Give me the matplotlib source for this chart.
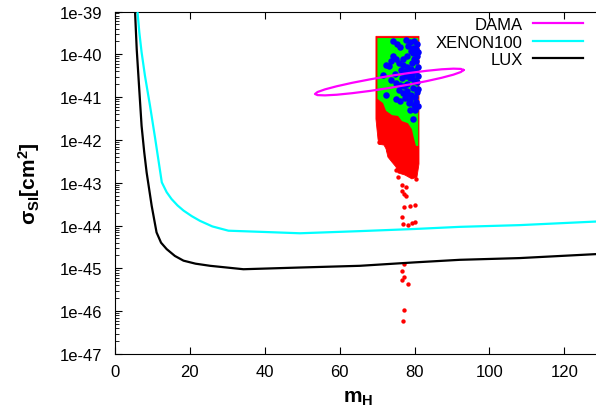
import numpy as np
import matplotlib
matplotlib.use("Agg")
import matplotlib.pyplot as plt
from matplotlib.ticker import FuncFormatter, NullLocator, FixedLocator, NullFormatter

plt.rcParams['font.family'] = ['Liberation Sans', 'DejaVu Sans']
plt.rcParams['mathtext.fontset'] = 'custom'
plt.rcParams['mathtext.rm'] = 'Liberation Sans:bold'
plt.rcParams['mathtext.default'] = 'rm'

# ---- exclusion limits: dark-matter mass m_H [GeV] vs log10(sigma_SI / cm^2) ----
xenon_m = [5.7, 6.0, 6.5, 7.1, 8.0, 9.35, 10.7, 12.5, 13.8, 15.1, 16.7, 18.3, 20.5,
           22.7, 26.0, 30.3, 40.0, 49.4, 65.4, 80.0, 92.1, 108.0, 130.0]
xenon_log = [-38.6, -39.0, -39.49, -39.95, -40.50, -41.20, -41.95, -42.99, -43.22,
             -43.38, -43.53, -43.65, -43.78, -43.89, -44.02, -44.12, -44.15, -44.18,
             -44.13, -44.08, -44.03, -43.99, -43.90]

lux_m = [5.1, 5.34, 5.8, 6.5, 7.1, 7.8, 8.45, 9.8, 11.1, 12.3, 13.8, 16.0, 18.3,
         21.5, 25.4, 34.3, 49.4, 65.4, 80.0, 92.1, 108.0, 130.0]
lux_log = [-38.6, -38.98, -39.88, -40.85, -41.67, -42.28, -42.76, -43.54, -44.16,
           -44.40, -44.55, -44.71, -44.82, -44.89, -44.94, -45.02, -44.98, -44.94,
           -44.86, -44.80, -44.76, -44.66]

# DAMA preferred region (closed contour)
dama_m = [93.06, 92.39, 90.40, 87.25, 83.15, 78.37, 73.24, 68.11, 63.33, 59.23,
          56.08, 54.09, 53.42, 54.09, 56.08, 59.23, 63.33, 68.11, 73.24, 78.37,
          83.15, 87.25, 90.40, 92.39, 93.06]
dama_log = [-40.367, -40.341, -40.335, -40.350, -40.386, -40.439, -40.507, -40.585,
            -40.666, -40.746, -40.819, -40.881, -40.927, -40.953, -40.959, -40.944,
            -40.908, -40.855, -40.787, -40.709, -40.628, -40.548, -40.475, -40.413,
            -40.367]

# ---- scan points of the model ----
# dense region of all points (red) and of points passing further constraints (green)
red_core_m = [69.7, 81.2, 81.2, 80.65, 79.3, 77.45, 75.6, 75.05, 74.0, 72.9, 72.4,
              71.85, 70.5, 70.25, 69.7]
red_core_log = [-39.58, -39.58, -42.56, -42.87, -42.91, -42.82, -42.77, -42.63, -42.52,
                -42.40, -42.21, -42.12, -42.10, -41.98, -41.51]

green_core_m = [70.1, 81.0, 81.0, 80.4, 79.9, 79.3, 78.25, 76.65, 75.6, 74.0, 72.4,
                71.6, 70.1]
green_core_log = [-39.62, -39.62, -42.14, -42.14, -41.98, -41.75, -41.61, -41.56, -41.44,
                  -41.42, -41.32, -41.14, -41.04]

# isolated red points below the dense region
red_pts_m = [70.4, 72.9, 75.05, 76.65, 78.8, 79.9, 76.65, 77.7, 76.65, 77.2, 77.7,
             77.2, 78.8, 80.1, 76.65, 76.9, 78.25, 79.3, 80.1, 77.2, 76.65, 77.2,
             76.65, 78.25, 77.2, 76.9, 75.6, 80.4]
red_pts_log = [-42.05, -42.24, -42.70, -42.73, -42.70, -42.75, -43.05, -43.10, -43.19,
               -43.26, -43.31, -43.57, -43.54, -43.52, -43.80, -43.96, -43.99, -43.94,
               -43.92, -44.90, -45.06, -45.19, -45.27, -45.37, -45.97, -46.23, -42.87,
               -42.91]

# blue points
blue_m = [74.25, 75.3, 76.1, 77.7, 78.8, 79.9, 80.65, 78.25, 79.6, 80.4,
          79.6, 80.65, 79.9, 80.4, 74.25, 75.05, 73.7,
          75.85, 76.9, 78.0, 79.05, 80.1, 76.4, 77.45, 72.4, 73.2,
          77.7, 78.8, 79.9, 80.65, 79.3, 75.05, 76.1, 77.2, 78.0, 72.4,
          75.85, 76.9, 78.0, 79.05, 80.1, 80.65, 77.45, 78.8,
          78.5, 79.9, 80.4, 75.05, 71.6, 79.6,
          80.9, 80.9, 80.9, 80.9, 80.9, 79.0, 78.0, 77.0, 79.3, 78.3, 76.6,
          77.6, 79.6, 80.2, 76.0, 74.8, 73.8, 78.9]
blue_log = [-39.69, -39.76, -39.83, -39.67, -39.71, -39.69, -39.76, -39.81, -39.85, -39.88,
            -39.97, -40.04, -40.11, -40.16, -40.04, -40.11, -40.16,
            -40.20, -40.25, -40.30, -40.34, -40.39, -40.37, -40.39, -40.25, -40.27,
            -40.51, -40.55, -40.60, -40.65, -40.48, -40.67, -40.72, -40.74, -40.69, -40.95,
            -40.83, -40.90, -40.86, -40.95, -41.00, -40.88, -41.02, -41.07,
            -41.14, -41.18, -41.11, -41.04, -40.48, -41.51,
            -39.95, -40.30, -40.50, -40.80, -41.20, -39.92, -40.05, -40.10, -40.20,
            -40.45, -40.55, -40.95, -40.78, -41.30, -41.10, -40.45, -40.60, -41.30]

x_ticks = [0, 20, 40, 60, 80, 100, 120]
y_decades = [-47, -46, -45, -44, -43, -42, -41, -40, -39]
x_range = (0, 130)


def sig(v):
    return 10.0 ** np.asarray(v, dtype=float)


fig = plt.figure(figsize=(5.96, 4.10), dpi=100)
ax = fig.add_axes([115 / 596, 55 / 410, (601.7 - 115) / 596, (355 - 12.5) / 410])
ax.set_yscale('log')

ax.fill(red_core_m, sig(red_core_log), color='#ff0000', lw=0.6, ec='#ff0000', zorder=2)
ax.scatter(red_pts_m, sig(red_pts_log), s=10, color='#ff0000', lw=0, zorder=2)
ax.fill(green_core_m, sig(green_core_log), color='#00ff00', lw=0, zorder=3)
ax.scatter(blue_m, sig(blue_log), s=22, color='#0000ff', lw=0, zorder=4)

ax.plot(dama_m, sig(dama_log), color='#ff00ff', lw=1.6, zorder=6, label='DAMA')
ax.plot(xenon_m, sig(xenon_log), color='#00ffff', lw=1.6, zorder=5, label='XENON100')
ax.plot(lux_m, sig(lux_log), color='black', lw=1.6, zorder=5, label='LUX')

ax.set_xlim(*x_range)
ax.set_ylim(sig(y_decades[0]), sig(y_decades[-1]))
ax.xaxis.set_major_locator(FixedLocator(x_ticks))
ax.xaxis.set_minor_locator(NullLocator())
major_y = sig(y_decades)
minor_y = [k * 10.0 ** d for d in y_decades[:-1] for k in range(2, 10)]
ax.yaxis.set_major_locator(FixedLocator(major_y))
ax.yaxis.set_minor_locator(FixedLocator(minor_y))
ax.yaxis.set_major_formatter(FuncFormatter(lambda v, p: f"1e{int(np.round(np.log10(v)))}"))
ax.yaxis.set_minor_formatter(NullFormatter())

ax.tick_params(which='both', direction='in', top=True, right=False, labelsize=12,
               colors='black')
ax.tick_params(which='major', length=5, width=0.8)
ax.tick_params(which='minor', length=3, width=0.6)
ax.tick_params(axis='y', pad=9)
ax.tick_params(axis='x', pad=7)
for s in ax.spines.values():
    s.set_linewidth(0.8)

ax.set_xlabel('m$_H$', fontsize=15, fontweight='bold')
ax.set_ylabel('σ$_{SI}$[cm$^2$]', fontsize=15, fontweight='bold')
ax.xaxis.set_label_coords(0.5, -0.098)
ax.yaxis.set_label_coords(-0.15, 0.5)

leg = ax.legend(loc='upper right', bbox_to_anchor=(583 / 596, 1 - 18 / 410),
                bbox_transform=fig.transFigure, frameon=False, markerfirst=False,
                fontsize=12, handlelength=3.0, handletextpad=0.6, labelspacing=0.15,
                borderpad=0, borderaxespad=0)

fig.savefig('out.png', dpi=100)
